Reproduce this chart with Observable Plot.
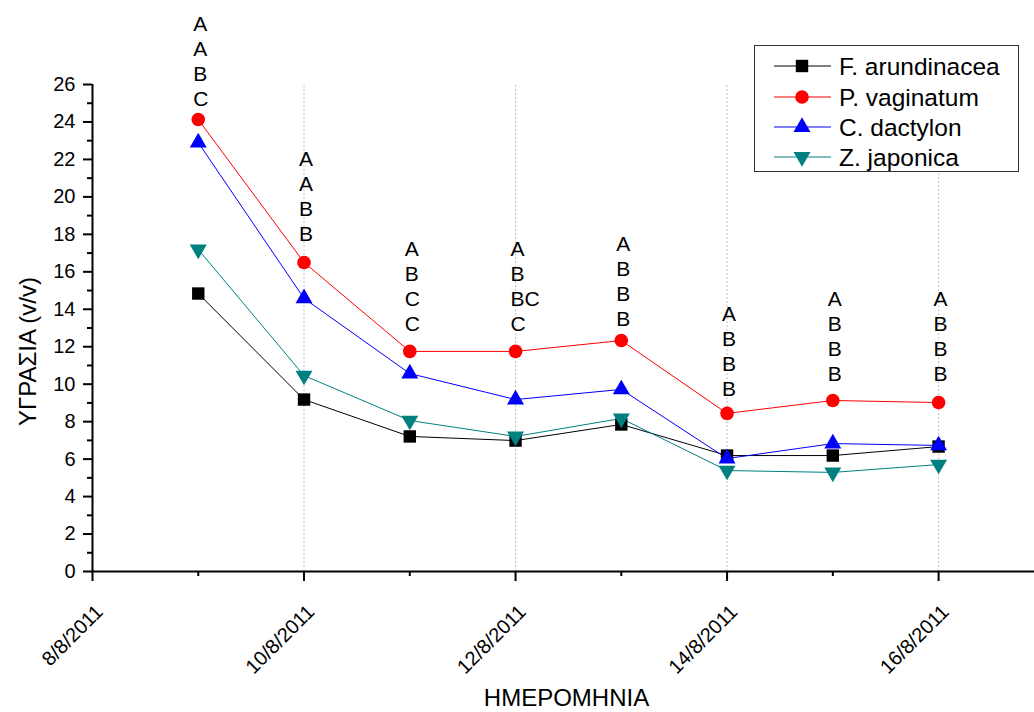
<!DOCTYPE html>
<html>
<head>
<meta charset="utf-8">
<script src="https://cdn.jsdelivr.net/npm/d3@7"></script>
<script src="https://cdn.jsdelivr.net/npm/@observablehq/plot@0.6"></script>
<style>
  body { margin: 0; background: white; }
  #wrap { position: relative; width: 1034px; height: 712px; font-family: "Liberation Sans", Arial, sans-serif; }
  #legend { position: absolute; left: 754px; top: 45px; width: 263px; height: 125px; border: 1.5px solid #333; background: white; }
</style>
</head>
<body>
<div id="wrap"></div>
<script>
// ---- data ----
const dates = ["2011-08-09", "2011-08-10", "2011-08-11", "2011-08-12", "2011-08-13", "2011-08-14", "2011-08-15", "2011-08-16"];
const seriesNames = ["F. arundinacea", "P. vaginatum", "C. dactylon", "Z. japonica"];
const fArundinacea = [14.84, 9.18, 7.21, 6.99, 7.85, 6.19, 6.19, 6.67];
const pVaginatum  = [24.13, 16.50, 11.75, 11.75, 12.33, 8.44, 9.13, 9.02];
const cDactylon   = [22.90, 14.58, 10.57, 9.18, 9.72, 6.03, 6.83, 6.73];
const zJaponica   = [17.19, 10.46, 8.06, 7.21, 8.17, 5.39, 5.29, 5.71];
const letterGroups = ["A\nA\nB\nC", "A\nA\nB\nB", "A\nB\nC\nC", "A\nB\nBC\nC", "A\nB\nB\nB", "A\nB\nB\nB", "A\nB\nB\nB", "A\nB\nB\nB"];
const letterY = [27.26, 20.07, 15.29, 15.29, 15.54, 11.80, 12.58, 12.58];
const majorTickDates = ["2011-08-08", "2011-08-10", "2011-08-12", "2011-08-14", "2011-08-16"];
const minorTickDates = ["2011-08-09", "2011-08-11", "2011-08-13", "2011-08-15"];
const gridDates = ["2011-08-10", "2011-08-12", "2011-08-14", "2011-08-16"];
const yMajorTicks = [0, 2, 4, 6, 8, 10, 12, 14, 16, 18, 20, 22, 24, 26];
const yMinorTicks = [1, 3, 5, 7, 9, 11, 13, 15, 17, 19, 21, 23, 25];
const xDomain = ["2011-08-08T00:00Z", "2011-08-16T21:46Z"];
const yDomain = [0, 26];
const colors = ["#000000", "#ff0000", "#0000ff", "#008080"];
const yTitle = "ΥΓΡΑΣΙΑ (v/v)";
const xTitle = "ΗΜΕΡΟΜΗΝΙΑ";

// ---- build table ----
const parse = s => new Date(s.length === 10 ? s + "T00:00Z" : s);
const valuesBySeries = [fArundinacea, pVaginatum, cDactylon, zJaponica];
const table = seriesNames.flatMap((name, k) =>
  dates.map((d, i) => ({date: parse(d), value: valuesBySeries[k][i], name})));
const letters = dates.map((d, i) => ({date: parse(d), y: letterY[i], text: letterGroups[i]}));
const fmt = d => `${d.getUTCDate()}/${d.getUTCMonth() + 1}/${d.getUTCFullYear()}`;

const symbols = [
  {symbol: "square", r: 7, rotate: 0},
  {symbol: "circle", r: 6.8, rotate: 0},
  {symbol: "triangle", r: 6.3, rotate: 0},
  {symbol: "triangle", r: 6.3, rotate: 180}
];

const FONT = "'Liberation Sans', Arial, sans-serif";

const chart = Plot.plot({
  width: 1034,
  height: 712,
  marginLeft: 92,
  marginRight: 0,
  marginTop: 84,
  marginBottom: 141,
  style: {fontFamily: FONT, color: "black", background: "white", overflow: "visible"},
  x: {type: "utc", domain: xDomain.map(parse)},
  y: {domain: yDomain},
  color: {domain: seriesNames, range: colors},
  marks: [
    Plot.ruleX(gridDates.map(parse), {y1: yDomain[0], y2: yDomain[1], stroke: "#b0b0b0", strokeDasharray: "1.5,2.5"}),
    Plot.axisY({ticks: yMajorTicks, tickSize: 9, tickPadding: 8, fontSize: 20, strokeWidth: 2, label: null}),
    Plot.axisY({ticks: yMinorTicks, tickSize: 5, tickFormat: () => "", strokeWidth: 2, label: null}),
    Plot.axisX({ticks: majorTickDates.map(parse), tickSize: 10, tickFormat: () => "", strokeWidth: 2, label: null}),
    Plot.axisX({ticks: majorTickDates.map(parse), tickSize: 0, tickPadding: 37, dx: 7, tickRotate: -45, tickFormat: fmt, fontSize: 20, label: null}),
    Plot.axisX({ticks: minorTickDates.map(parse), tickSize: 5, tickFormat: () => "", strokeWidth: 2, label: null}),
    Plot.ruleY([yDomain[0]], {strokeWidth: 2}),
    Plot.ruleX([parse(xDomain[0])], {strokeWidth: 2}),
    Plot.line(table, {x: "date", y: "value", z: "name", stroke: "name", strokeWidth: 1}),
    ...seriesNames.map((name, k) => Plot.dot(table.filter(d => d.name === name), {
      x: "date", y: "value", symbol: symbols[k].symbol, r: symbols[k].r, rotate: symbols[k].rotate, fill: colors[k], stroke: "none"
    })),
    Plot.text(letters, {x: "date", y: "y", text: "text", textAnchor: "start", dx: -5, lineHeight: 1.19, fontSize: 21, lineAnchor: "middle"}),
    Plot.text([yTitle], {frameAnchor: "left", rotate: -90, dx: -64, dy: 98, fontSize: 24}),
    Plot.text([xTitle], {frameAnchor: "bottom", dx: 3, dy: 134, fontSize: 24})
  ]
});

const wrap = document.getElementById("wrap");
wrap.appendChild(chart);

// ---- legend ----
const legend = document.createElement("div");
legend.id = "legend";
wrap.appendChild(legend);
const lsvg = d3.select(legend).append("svg").attr("width", 263).attr("height", 125);
const rowY = [20, 51, 81, 111];
seriesNames.forEach((name, k) => {
  const g = lsvg.append("g").attr("transform", `translate(0,${rowY[k]})`);
  g.append("line").attr("x1", 19).attr("x2", 76).attr("stroke", colors[k]).attr("stroke-width", 1.2);
  const s = symbols[k];
  const sym = {square: d3.symbolSquare, circle: d3.symbolCircle, triangle: d3.symbolTriangle}[s.symbol];
  g.append("path").attr("d", d3.symbol(sym, Math.PI * s.r * s.r)())
    .attr("transform", `translate(47,0) rotate(${s.rotate})`).attr("fill", colors[k]);
  g.append("text").attr("x", 84).attr("dy", "0.36em").attr("font-size", 24.5)
    .attr("font-family", FONT).text(name);
});
</script>
</body>
</html>
